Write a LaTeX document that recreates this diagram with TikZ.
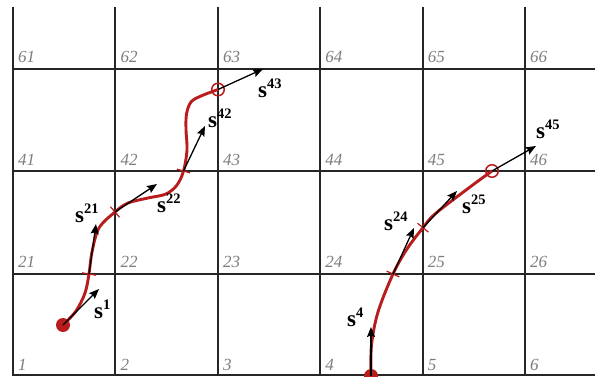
\documentclass[tikz,border=0pt]{standalone}
\usepackage{fontspec}
\setmainfont{Liberation Serif}
\usetikzlibrary{arrows.meta}
\definecolor{trackred}{RGB}{185,28,28}
\definecolor{cellgray}{RGB}{125,125,125}
\newcommand{\svec}[1]{{\fontsize{23}{23}\selectfont\bfseries s}\raisebox{9pt}{\fontsize{14.5}{14.5}\selectfont\bfseries #1}}
\tikzset{
  gridline/.style={line width=2pt, black!85},
  celllab/.style={anchor=base west, inner sep=0pt, text=cellgray, font=\fontsize{17}{17}\selectfont\itshape},
  track/.style={trackred, line width=2.9pt, line cap=round},
  tickmark/.style={trackred, line width=1.2pt},
  vec/.style={black, line width=1.3pt, -{Stealth[length=10pt,width=8pt,inset=1.5pt]}},
  veclab/.style={anchor=base west, inner sep=0pt},
  endring/.style={circle, draw=trackred, line width=1.5pt, minimum size=12.5pt, inner sep=0pt},
  startdot/.style={circle, fill=trackred, minimum size=14pt, inner sep=0pt}
}
\begin{document}
\begin{tikzpicture}[x=1pt,y=1pt]
\useasboundingbox (0,0) rectangle (595,376);
% grid
\foreach \gx in {13,115,218,320,423,525} \draw[gridline] (\gx,369) -- (\gx,0);
\foreach \gy in {102,205,307} \draw[gridline] (12,\gy) -- (595,\gy);
\draw[gridline] (12,1) -- (595,1);
% cell numbers
\foreach \r in {0,...,3} {
  \foreach \c in {0,...,5} {
    \pgfmathtruncatemacro\n{20*\r+\c+1}
    \node[celllab] (cell\n) at (18+102.4*\c, 6+102.4*\r) {\n};
  }
}
% key points
\coordinate (D1) at (63,51);
\coordinate (T1) at (89,102);
\coordinate (T2) at (115,164);
\coordinate (T3) at (183.5,205);
\coordinate (C1) at (218,286.5);
\coordinate (D2) at (371,0);
\coordinate (T4) at (393,102);
\coordinate (T5) at (423,148.3);
\coordinate (C2) at (492,205);
% arrow tips
\coordinate (A1) at (99,87);
\coordinate (A21) at (96,152);
\coordinate (A22) at (157,192);
\coordinate (A42) at (205,250);
\coordinate (A43) at (263,307);
\coordinate (A4) at (371,49);
\coordinate (A24) at (414,148);
\coordinate (A25) at (457,185);
\coordinate (A45) at (536,230);
% tracks
\draw[track] plot[smooth, tension=0.55] coordinates {(D1) (76,65) (85,83) (T1) (92,124) (99,148) (T2) (128,173) (148,178) (166,182) (177,191) (T3) (187,226) (186,246) (186.5,262) (191,274) (201,280) (C1)};
\draw[track] plot[smooth, tension=0.55] coordinates {(D2) (371.5,31) (378,64) (T4) (407,127) (T5) (435,162) (470,189) (C2)};
% ticks
\draw[tickmark] (T1) ++(-6.9,1.2) -- ++(13.8,-2.4);
\draw[tickmark] (T2) ++(-4.6,5.3) -- ++(9.2,-10.6);
\draw[tickmark] (T3) ++(-6.7,1.9) -- ++(13.4,-3.8);
\draw[tickmark] (T4) ++(-6.4,2.9) -- ++(12.8,-5.8);
\draw[tickmark] (T5) ++(-5.4,4.4) -- ++(10.8,-8.8);
% start dots and end rings
\node[startdot] (dot1) at (D1) {};
\node[startdot] (dot2) at (D2) {};
\node[endring] (ring1) at (C1) {};
\node[endring] (ring2) at (C2) {};
% vectors
\draw[vec] (D1) -- (A1);
\draw[vec] (T1) -- (A21);
\draw[vec] (T2) -- (A22);
\draw[vec] (T3) -- (A42);
\draw[vec] (C1) -- (A43);
\draw[vec] (D2) -- (A4);
\draw[vec] (T4) -- (A24);
\draw[vec] (T5) -- (A25);
\draw[vec] (C2) -- (A45);
% vector labels
\node[veclab] (l1) at (94,58) {\svec{1}};
\node[veclab] (l21) at (75,154) {\svec{21}};
\node[veclab] (l22) at (157,164) {\svec{22}};
\node[veclab] (l42) at (208,249) {\svec{42}};
\node[veclab] (l43) at (258,279) {\svec{43}};
\node[veclab] (l4) at (347,50) {\svec{4}};
\node[veclab] (l24) at (384,146) {\svec{24}};
\node[veclab] (l25) at (462,163) {\svec{25}};
\node[veclab] (l45) at (536,238) {\svec{45}};
\end{tikzpicture}
\end{document}
